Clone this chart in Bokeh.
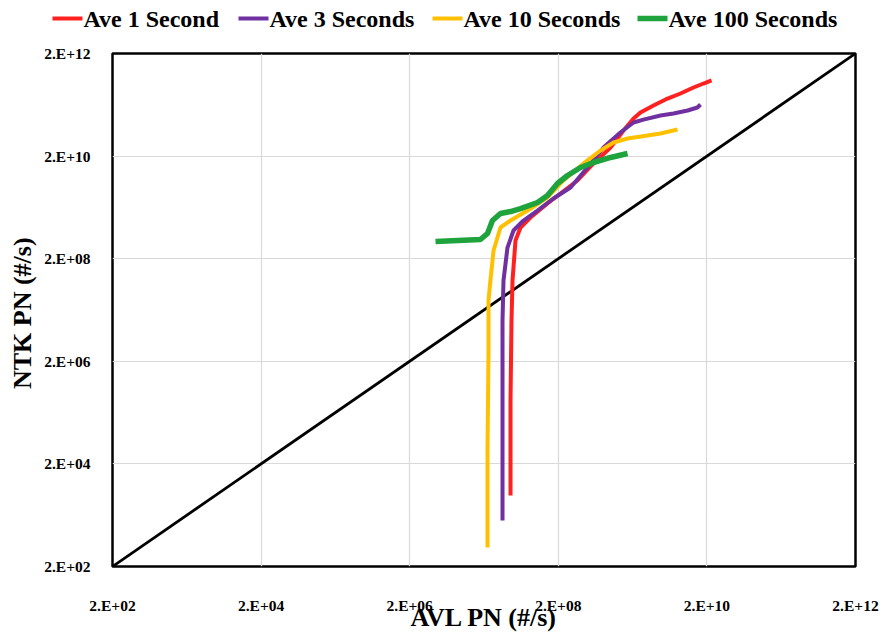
from bokeh.plotting import figure
from bokeh.layouts import column
from bokeh.models import Range1d, FixedTicker, CustomJSTickFormatter, ColumnDataSource
from bokeh.core.properties import value
from bokeh.embed import file_html
from bokeh.resources import INLINE

# ---- data ----
tick_values = [2e2, 2e4, 2e6, 2e8, 2e10, 2e12]
tick_labels = ["2.E+02", "2.E+04", "2.E+06", "2.E+08", "2.E+10", "2.E+12"]

series_names = ["Ave 1 Second", "Ave 3 Seconds", "Ave 10 Seconds", "Ave 100 Seconds"]
series_colors = ["#ff2020", "#7030a0", "#ffc000", "#1fa33c"]
series_widths = [4, 4, 4, 5.5]

ave1_x = [4.55e7, 4.55e7, 4.69e7, 4.84e7, 5.31e7, 6.2e7, 8.45e7, 1.43e8, 2.14e8, 3.62e8,
          5.96e8, 1.01e9, 1.51e9, 2.06e9, 2.55e9, 3.82e9, 5.9e9, 8.83e9, 1.32e10, 1.8e10, 2.31e10]
ave1_y = [4.84e3, 3.44e5, 1.25e7, 7.52e7, 4.53e8, 8.11e8, 1.27e9, 2.38e9, 3.73e9, 6.69e9,
          1.44e10, 2.94e10, 6.31e10, 1.08e11, 1.42e11, 1.94e11, 2.65e11, 3.32e11, 4.35e11, 5.2e11, 5.96e11]

ave3_x = [3.55e7, 3.55e7, 3.55e7, 3.66e7, 4.14e7, 4.99e7, 6.8e7, 1.05e8, 1.72e8, 2.92e8,
          4.94e8, 8.11e8, 1.37e9, 2.06e9, 2.8e9, 4.75e9, 7.1e9, 1.1e10, 1.49e10, 1.64e10]
ave3_y = [1.58e3, 3.44e5, 1.25e7, 7.52e7, 3.3e8, 7.1e8, 1.11e9, 1.74e9, 2.98e9, 4.89e9,
          1.2e10, 2.94e10, 5.77e10, 9.04e10, 1.03e11, 1.24e11, 1.35e11, 1.55e11, 1.77e11, 2.03e11]

ave10_x = [2.23e7, 2.23e7, 2.3e7, 2.3e7, 2.44e7, 2.69e7, 3.33e7, 4.55e7, 7.7e7, 1.43e8,
           2.35e8, 4.37e8, 7.4e8, 1.11e9, 1.71e9, 3.17e9, 4.75e9, 8.04e9]
ave10_y = [4.69e2, 3.65e4, 3.25e6, 3.06e7, 7.52e7, 2.89e8, 8.11e8, 1.11e9, 1.74e9, 3.12e9,
           6.69e9, 1.44e10, 2.57e10, 3.68e10, 4.41e10, 5.05e10, 5.52e10, 6.6e10]

ave100_x = [4.45e6, 1.79e7, 2.23e7, 2.6e7, 3.33e7, 4.55e7, 6.2e7, 1.05e8, 1.43e8, 1.95e8,
            2.66e8, 3.98e8, 5.96e8, 1.01e9, 1.71e9]
ave100_y = [4.33e8, 4.73e8, 6.2e8, 1.11e9, 1.52e9, 1.66e9, 1.9e9, 2.49e9, 3.41e9, 5.85e9,
            8.37e9, 1.2e10, 1.5e10, 1.88e10, 2.25e10]

diag_x = [2e2, 2e12]
diag_y = [2e2, 2e12]

FONT = "Liberation Serif"

# ---- legend strip (separate figure above the chart, in pixel units) ----
LEG_W, LEG_H = 884, 43
leg_item_left = [52, 238, 432, 637]   # layout: left edge of each legend swatch (px)
SWATCH_LEN = 30
LEG_Y = LEG_H - 18

leg_fig = figure(width=LEG_W, height=LEG_H, x_range=Range1d(0, LEG_W), y_range=Range1d(0, LEG_H),
                 output_backend="svg", toolbar_location=None,
                 x_axis_location=None, y_axis_location=None,
                 min_border=0, min_border_left=0, min_border_right=0,
                 min_border_top=0, min_border_bottom=0,
                 background_fill_color="white", border_fill_color="white")
try:
    leg_fig.frame_align = False
except Exception:
    pass
leg_fig.outline_line_color = None
leg_fig.xgrid.visible = False
leg_fig.ygrid.visible = False

leg_src = ColumnDataSource(dict(
    x0=leg_item_left,
    x1=[x + SWATCH_LEN for x in leg_item_left],
    tx=[x + SWATCH_LEN + 1 for x in leg_item_left],
    y=[LEG_Y] * len(series_names),
    name=series_names,
    color=series_colors,
    width=series_widths,
))
leg_fig.segment(x0="x0", y0="y", x1="x1", y1="y", line_color="color", line_width="width",
                source=leg_src)
leg_fig.text(x="tx", y="y", text="name", source=leg_src,
             text_font=value(FONT), text_font_style="bold", text_font_size="24px",
             text_color="black", text_baseline="middle", text_align="left")

# ---- main chart ----
p = figure(width=884, height=591, x_axis_type="log", y_axis_type="log",
           x_range=Range1d(2e2, 2e12), y_range=Range1d(2e2, 2e12),
           output_backend="svg", toolbar_location=None,
           min_border_left=112, min_border_right=29, min_border_top=10, min_border_bottom=68,
           background_fill_color="white", border_fill_color="white")
try:
    p.frame_align = False
except Exception:
    pass

p.outline_line_color = "black"
p.outline_line_width = 2.5

ticker = FixedTicker(ticks=tick_values, minor_ticks=[])
fmt = CustomJSTickFormatter(args=dict(vals=tick_values, labs=tick_labels), code="""
let best = 0, bd = Infinity;
for (let i = 0; i < vals.length; i++) {
  const d = Math.abs(Math.log10(tick) - Math.log10(vals[i]));
  if (d < bd) { bd = d; best = i; }
}
return labs[best];
""")

for ax in (p.xaxis[0], p.yaxis[0]):
    ax.ticker = ticker
    ax.formatter = fmt
    ax.axis_line_color = None
    ax.major_tick_line_color = None
    ax.minor_tick_line_color = None
    ax.major_tick_out = 0
    ax.major_tick_in = 0
    ax.minor_tick_out = 0
    ax.minor_tick_in = 0
    ax.major_label_text_font = FONT
    ax.major_label_text_font_style = "bold"
    ax.major_label_text_font_size = "15.5px"
    ax.major_label_text_color = "black"
    ax.axis_label_text_font = FONT
    ax.axis_label_text_font_style = "bold"
    ax.axis_label_text_font_size = "26px"
    ax.axis_label_text_color = "black"

p.xaxis.axis_label = "AVL PN (#/s)"
p.yaxis.axis_label = "NTK PN  (#/s)"
p.xaxis.major_label_standoff = 30
p.xaxis.axis_label_standoff = -14
p.yaxis.major_label_standoff = 22
p.yaxis.axis_label_standoff = 4

for g in (p.xgrid[0], p.ygrid[0]):
    g.ticker = ticker
    g.grid_line_color = "#d9d9d9"
    g.grid_line_width = 1.2

p.line(diag_x, diag_y, line_color="black", line_width=2.8)

for xs, ys, c, w in zip([ave1_x, ave3_x, ave10_x, ave100_x], [ave1_y, ave3_y, ave10_y, ave100_y],
                        series_colors, series_widths):
    p.line(xs, ys, line_color=c, line_width=w)

layout = column(leg_fig, p, spacing=0)
open("out.html", "w").write(file_html(layout, INLINE))
